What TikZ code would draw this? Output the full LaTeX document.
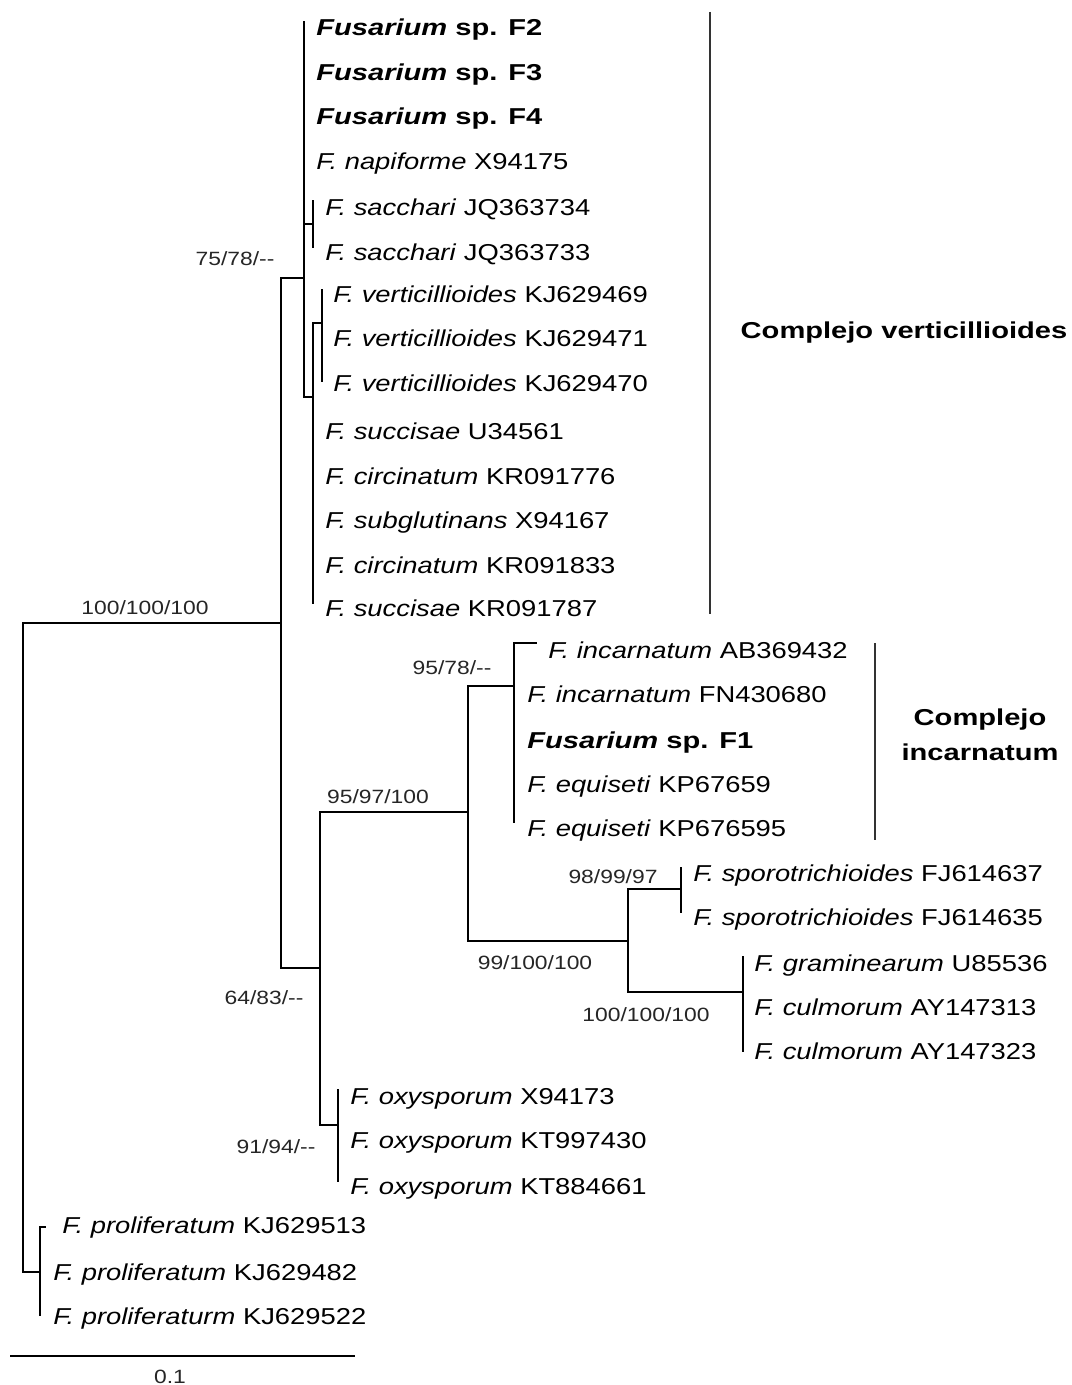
\documentclass[tikz,border=0pt]{standalone}
\usepackage{fontspec}
\setmainfont{Liberation Sans}
\newfontfamily\taxf{Liberation Sans}[FakeStretch=1.19]
\newfontfamily\boldf{Liberation Sans}[FakeStretch=1.265]
\begin{document}
\begin{tikzpicture}[x=0.5pt,y=-0.5pt,
  br/.style={line width=1.45pt, line cap=rect, black},
  cladebar/.style={line width=1pt, black!80},
  tax/.style={anchor=base west, inner sep=0pt, font=\taxf\fontsize{11.5}{13}\selectfont, text=black},
  btax/.style={anchor=base west, inner sep=0pt, font=\boldf\fontsize{11.5}{13}\selectfont\bfseries, text=black},
  supp/.style={anchor=center, inner sep=0pt, font=\taxf\fontsize{9.6}{11}\selectfont, text=black!85},
  clade/.style={inner sep=0pt, font=\boldf\fontsize{11.5}{17.5}\selectfont\bfseries, align=center}]
\useasboundingbox (0,0) rectangle (1071,1385);
\fill[white] (0,0) rectangle (1071,1385);
% internal nodes
\coordinate (R) at (23,623);
\coordinate (A) at (281,623);
\coordinate (V) at (304,278);
\coordinate (S) at (313,224);
\coordinate (V2) at (313,397);
\coordinate (VV) at (322,323);
\coordinate (B) at (320,968);
\coordinate (I) at (468,812);
\coordinate (Inc) at (514,686);
\coordinate (G) at (628,941);
\coordinate (Sp) at (681,889);
\coordinate (Gr) at (743,992);
\coordinate (O) at (338,1125);
\coordinate (P) at (40,1272);
% tips
\coordinate (l1) at (304,22);
\coordinate (l2) at (304,68);
\coordinate (l3) at (304,112);
\coordinate (l4) at (304,157);
\coordinate (l5) at (313,201);
\coordinate (l6) at (313,247);
\coordinate (l7) at (322,290);
\coordinate (l8) at (322,334);
\coordinate (l9) at (322,381);
\coordinate (l10) at (313,426);
\coordinate (l11) at (313,471);
\coordinate (l12) at (313,515);
\coordinate (l13) at (313,560);
\coordinate (l14) at (313,603);
\coordinate (l15) at (536,643);
\coordinate (l16) at (514,689);
\coordinate (l17) at (514,735);
\coordinate (l18) at (514,779);
\coordinate (l19) at (514,822);
\coordinate (l20) at (681,868);
\coordinate (l21) at (681,912);
\coordinate (l22) at (743,957);
\coordinate (l23) at (743,1004);
\coordinate (l24) at (743,1051);
\coordinate (l25) at (338,1090);
\coordinate (l26) at (338,1135);
\coordinate (l27) at (338,1181);
\coordinate (l28) at (45,1227);
\coordinate (l29) at (40,1272);
\coordinate (l30) at (40,1315);
% branches
\draw[br] (R) |- (A);
\draw[br] (R) |- (P);
\draw[br] (A) |- (V);
\draw[br] (A) |- (B);
\foreach \t in {l1,l2,l3,l4} \draw[br] (V) |- (\t);
\draw[br] (V) |- (S);
\draw[br] (V) |- (V2);
\draw[br] (S) |- (l5);
\draw[br] (S) |- (l6);
\draw[br] (V2) |- (VV);
\foreach \t in {l7,l8,l9} \draw[br] (VV) |- (\t);
\foreach \t in {l10,l11,l12,l13,l14} \draw[br] (V2) |- (\t);
\draw[br] (B) |- (I);
\draw[br] (B) |- (O);
\draw[br] (I) |- (Inc);
\draw[br] (I) |- (G);
\foreach \t in {l15,l16,l17,l18,l19} \draw[br] (Inc) |- (\t);
\draw[br] (G) |- (Sp);
\draw[br] (G) |- (Gr);
\foreach \t in {l20,l21} \draw[br] (Sp) |- (\t);
\foreach \t in {l22,l23,l24} \draw[br] (Gr) |- (\t);
\foreach \t in {l25,l26,l27} \draw[br] (O) |- (\t);
\foreach \t in {l28,l29,l30} \draw[br] (P) |- (\t);
% taxa
\node[btax] (t1) at (316,36) {\itshape Fusarium\upshape{} sp. F2};
\node[btax] (t2) at (316,81) {\itshape Fusarium\upshape{} sp. F3};
\node[btax] (t3) at (316,125) {\itshape Fusarium\upshape{} sp. F4};
\node[tax] (t4) at (316,170) {\textit{F. napiforme} X94175};
\node[tax] (t5) at (325,216) {\textit{F. sacchari} JQ363734};
\node[tax] (t6) at (325,261) {\textit{F. sacchari} JQ363733};
\node[tax] (t7) at (333,303) {\textit{F. verticillioides} KJ629469};
\node[tax] (t8) at (333,347) {\textit{F. verticillioides} KJ629471};
\node[tax] (t9) at (333,391) {\textit{F. verticillioides} KJ629470};
\node[tax] (t10) at (325,439) {\textit{F. succisae} U34561};
\node[tax] (t11) at (325,484) {\textit{F. circinatum} KR091776};
\node[tax] (t12) at (325,528) {\textit{F. subglutinans} X94167};
\node[tax] (t13) at (325,573) {\textit{F. circinatum} KR091833};
\node[tax] (t14) at (325,616) {\textit{F. succisae} KR091787};
\node[tax] (t15) at (548,658) {\textit{F. incarnatum} AB369432};
\node[tax] (t16) at (527,702) {\textit{F. incarnatum} FN430680};
\node[btax] (t17) at (527,748) {\itshape Fusarium\upshape{} sp. F1};
\node[tax] (t18) at (527,792) {\textit{F. equiseti} KP67659};
\node[tax] (t19) at (527,836) {\textit{F. equiseti} KP676595};
\node[tax] (t20) at (693,881) {\textit{F. sporotrichioides} FJ614637};
\node[tax] (t21) at (693,925) {\textit{F. sporotrichioides} FJ614635};
\node[tax] (t22) at (754,971) {\textit{F. graminearum} U85536};
\node[tax] (t23) at (754,1015) {\textit{F. culmorum} AY147313};
\node[tax] (t24) at (754,1059) {\textit{F. culmorum} AY147323};
\node[tax] (t25) at (350,1104) {\textit{F. oxysporum} X94173};
\node[tax] (t26) at (350,1148) {\textit{F. oxysporum} KT997430};
\node[tax] (t27) at (350,1194) {\textit{F. oxysporum} KT884661};
\node[tax] (t28) at (62,1233) {\textit{F. proliferatum} KJ629513};
\node[tax] (t29) at (53,1280) {\textit{F. proliferatum} KJ629482};
\node[tax] (t30) at (53,1324) {\textit{F. proliferaturm} KJ629522};
% support values
\node[supp] (s1) at (145,608) {100/100/100};
\node[supp] (s2) at (235,259) {75/78/--};
\node[supp] (s3) at (264,998) {64/83/--};
\node[supp] (s4) at (378,797) {95/97/100};
\node[supp] (s5) at (452,668) {95/78/--};
\node[supp] (s6) at (613,877) {98/99/97};
\node[supp] (s7) at (535,963) {99/100/100};
\node[supp] (s8) at (646,1015) {100/100/100};
\node[supp] (s9) at (276,1147) {91/94/--};
% clade bars
\coordinate (cv1) at (710,12);
\coordinate (cv2) at (710,614);
\coordinate (ci1) at (875,643);
\coordinate (ci2) at (875,840);
\draw[cladebar] (cv1) -- (cv2);
\draw[cladebar] (ci1) -- (ci2);
\node[clade, anchor=base] (cl1) at (904,339) {Complejo verticillioides};
\node[clade, anchor=center] (cl2) at (980,735) {Complejo\\incarnatum};
% scale bar
\coordinate (sb1) at (10,1356);
\coordinate (sb2) at (355,1356);
\draw[line width=1.45pt] (sb1) -- (sb2);
\node[supp] (sc) at (170,1377) {0.1};
\end{tikzpicture}
\end{document}
